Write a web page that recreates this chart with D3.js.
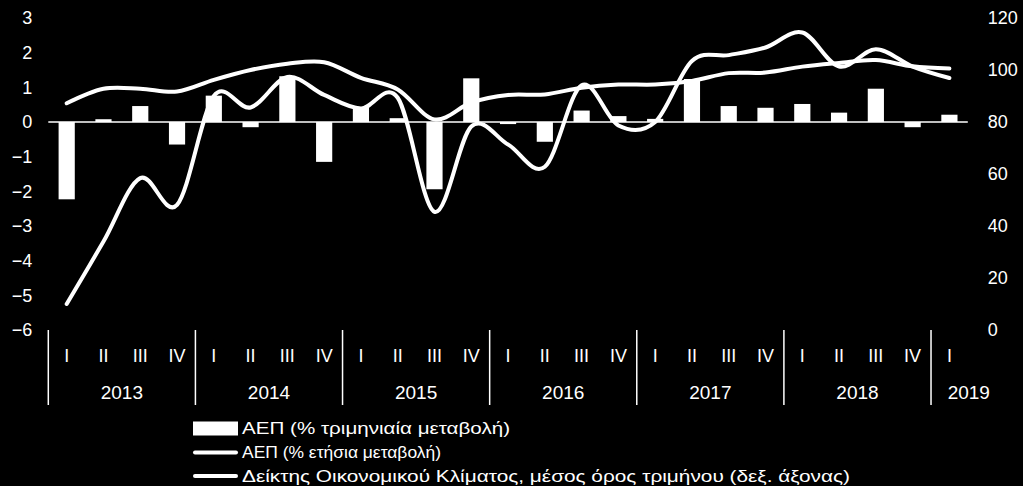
<!DOCTYPE html>
<html>
<head>
<meta charset="utf-8">
<script src="https://cdn.jsdelivr.net/npm/d3@7"></script>
<style>
  html, body { margin: 0; padding: 0; background: #000; }
  svg { display: block; }
  text { font-family: "Liberation Sans", Arial, sans-serif; fill: #fff; }
</style>
</head>
<body>
<svg id="chart" width="1023" height="486"></svg>
<script>
const yearLabels = ["2013", "2014", "2015", "2016", "2017", "2018", "2019"];
const quartersPerYear = [4, 4, 4, 4, 4, 4, 1];
const quarterLabels = ["I", "II", "III", "IV"];

// ΑΕΠ, % τριμηνιαία μεταβολή (αριστερός άξονας)
const gdpQoq = [-2.23, 0.08, 0.46, -0.65, 0.76, -0.15, 1.32, -1.15,
  0.41, 0.11, -1.94, 1.26, -0.06, -0.57, 0.33, 0.17,
  0.09, 1.24, 0.46, 0.41, 0.52, 0.27, 0.96, -0.15, 0.21];

// ΑΕΠ, % ετήσια μεταβολή (αριστερός άξονας)
const gdpYoy = [-5.25, -3.45, -1.62, -2.39, 0.75, 0.42, 1.3, 0.78,
  0.39, 0.7, -2.59, -0.13, -0.65, -1.29, 1.06, -0.1,
  0.0, 1.76, 1.93, 2.15, 2.58, 1.6, 2.1, 1.6, 1.27];

// Δείκτης Οικονομικού Κλίματος (δεξιός άξονας)
const esi = [87.2, 92.8, 92.8, 91.7, 96.2, 100.0, 102.4, 103.0,
  97.0, 92.5, 81.0, 87.5, 90.4, 90.6, 93.2, 94.4,
  94.4, 95.8, 98.8, 99.0, 101.3, 102.7, 103.8, 101.4, 100.6];

const leftTicks = [-6, -5, -4, -3, -2, -1, 0, 1, 2, 3];
const rightTicks = [0, 20, 40, 60, 80, 100, 120];

const legendLabels = [
  "ΑΕΠ (% τριμηνιαία μεταβολή)",
  "ΑΕΠ (% ετήσια μεταβολή)",
  "Δείκτης Οικονομικού Κλίματος, μέσος όρος τριμήνου (δεξ. άξονας)"
];

// categories: one per quarter, with its year
const categories = [];
yearLabels.forEach((yr, i) => {
  for (let q = 0; q < quartersPerYear[i]; q++) {
    categories.push({ key: yr + "-" + q, year: yr, q: quarterLabels[q] });
  }
});

const svg = d3.select("#chart");
svg.append("rect").attr("width", 1023).attr("height", 486).attr("fill", "#000");

const margin = { left: 48.3, right: 967.8, top: 18, bottom: 330 };

const x = d3.scaleBand()
  .domain(categories.map(d => d.key))
  .range([margin.left, margin.right])
  .padding(0);

const yL = d3.scaleLinear().domain([-6, 3]).range([margin.bottom, margin.top]);
const yR = d3.scaleLinear().domain([0, 120]).range([margin.bottom, margin.top]);

const cx = i => x(categories[i].key) + x.bandwidth() / 2;

// axes (labels only)
svg.append("g")
  .attr("transform", `translate(${margin.left},0)`)
  .call(d3.axisLeft(yL).tickValues(leftTicks).tickSize(0).tickPadding(16).tickFormat(d3.format("d")))
  .call(g => g.select(".domain").remove())
  .call(g => g.selectAll("text").attr("font-size", 18).attr("fill", "#fff")
    .attr("font-family", "Liberation Sans, Arial, sans-serif"));

svg.append("g")
  .attr("transform", `translate(${margin.right},0)`)
  .call(d3.axisRight(yR).tickValues(rightTicks).tickSize(0).tickPadding(20))
  .call(g => g.select(".domain").remove())
  .call(g => g.selectAll("text").attr("font-size", 18).attr("fill", "#fff")
    .attr("font-family", "Liberation Sans, Arial, sans-serif"));

// bars
const barW = x.bandwidth() * 0.44;
svg.append("g")
  .attr("fill", "#fff")
  .selectAll("rect")
  .data(gdpQoq)
  .join("rect")
  .attr("x", (d, i) => cx(i) - barW / 2)
  .attr("y", d => yL(Math.max(0, d)))
  .attr("width", barW)
  .attr("height", d => Math.abs(yL(d) - yL(0)));

// zero line
svg.append("line")
  .attr("x1", margin.left).attr("x2", margin.right)
  .attr("y1", yL(0)).attr("y2", yL(0))
  .attr("stroke", "#fff").attr("stroke-width", 1.5);

// lines
const curve = d3.curveCardinal.tension(0);
const lineL = d3.line().x((d, i) => cx(i)).y(d => yL(d)).curve(curve);
const lineR = d3.line().x((d, i) => cx(i)).y(d => yR(d)).curve(curve);

svg.append("path")
  .attr("d", lineR(esi))
  .attr("fill", "none").attr("stroke", "#fff").attr("stroke-width", 4)
  .attr("stroke-linecap", "round").attr("stroke-linejoin", "round");

svg.append("path")
  .attr("d", lineL(gdpYoy))
  .attr("fill", "none").attr("stroke", "#fff").attr("stroke-width", 4)
  .attr("stroke-linecap", "round").attr("stroke-linejoin", "round");

// category axis: quarter labels, year labels, separators
const axisG = svg.append("g");
axisG.selectAll("text.q")
  .data(categories)
  .join("text")
  .attr("class", "q")
  .attr("x", (d, i) => cx(i))
  .attr("y", 362)
  .attr("text-anchor", "middle")
  .attr("font-size", 18)
  .text(d => d.q);

let idx = 0;
const groups = yearLabels.map((yr, i) => {
  const first = categories[idx].key;
  const last = categories[idx + quartersPerYear[i] - 1].key;
  idx += quartersPerYear[i];
  return { year: yr, x0: x(first), x1: x(last) + x.bandwidth(), n: quartersPerYear[i] };
});

axisG.selectAll("line.sep")
  .data(groups)
  .join("line")
  .attr("class", "sep")
  .attr("x1", d => d.x0).attr("x2", d => d.x0)
  .attr("y1", 330).attr("y2", 405)
  .attr("stroke", "#fff").attr("stroke-width", 1.5);

axisG.selectAll("text.yr")
  .data(groups)
  .join("text")
  .attr("class", "yr")
  .attr("x", d => d.n > 1 ? (d.x0 + d.x1) / 2 : d.x1 + 1)
  .attr("y", 399)
  .attr("text-anchor", "middle")
  .attr("font-size", 19)
  .text(d => d.year);

// legend
const leg = svg.append("g");
const legX = 193, legW = 45, legY = [428.5, 452.5, 476];
const legLen = [268, 199, 608];

leg.append("rect")
  .attr("x", legX).attr("y", legY[0] - 7)
  .attr("width", legW).attr("height", 14)
  .attr("fill", "#fff");

leg.selectAll("line")
  .data([1, 2])
  .join("line")
  .attr("x1", legX + 2).attr("x2", legX + legW - 2)
  .attr("y1", d => legY[d]).attr("y2", d => legY[d])
  .attr("stroke", "#fff").attr("stroke-width", 4).attr("stroke-linecap", "round");

leg.selectAll("text")
  .data(legendLabels)
  .join("text")
  .attr("x", 242)
  .attr("y", (d, i) => legY[i] + 5.8)
  .attr("font-size", 17)
  .attr("textLength", (d, i) => legLen[i])
  .attr("lengthAdjust", "spacingAndGlyphs")
  .text(d => d);
</script>
</body>
</html>
